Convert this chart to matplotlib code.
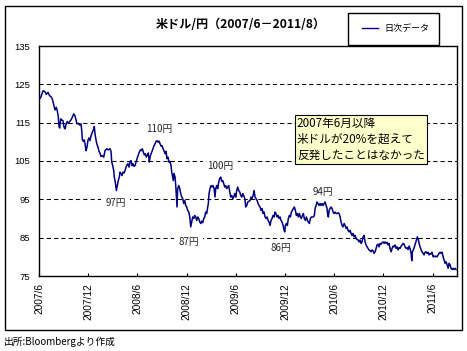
import matplotlib
matplotlib.use("Agg")
import matplotlib.pyplot as plt
from matplotlib.patches import Rectangle
from matplotlib.lines import Line2D

plt.rcParams["font.family"] = ["Liberation Sans", "Noto Sans CJK JP", "DejaVu Sans"]
JP = ["Noto Sans CJK JP", "DejaVu Sans"]

NAVY = "#000080"

# --- data (months elapsed since 2007/6, USD/JPY) ------------------------------
months = [
    0.00, 0.21, 0.49, 0.73, 0.89, 1.10, 1.30, 1.46, 1.62, 1.83, 1.95, 2.11, 2.23, 2.35, 2.44,
    2.52, 2.65, 2.77, 2.93, 3.05, 3.17, 3.33, 3.45, 3.57, 3.74, 3.90, 4.06, 4.23, 4.39, 4.51,
    4.63, 4.79, 4.96, 5.12, 5.21, 5.28, 5.40, 5.52, 5.61, 5.73, 5.85, 5.98, 6.10, 6.22, 6.34,
    6.50, 6.62, 6.74, 6.83, 6.95, 7.07, 7.20, 7.32, 7.44, 7.56, 7.72, 7.89, 8.05, 8.26, 8.45,
    8.66, 8.78, 8.87, 8.99, 9.11, 9.18, 9.30, 9.43, 9.55, 9.67, 9.79, 9.88, 10.00, 10.12, 10.24,
    10.37, 10.49, 10.61, 10.73, 10.85, 10.98, 11.10, 11.22, 11.34, 11.46, 11.59, 11.71, 11.83,
    11.95, 12.11, 12.23, 12.35, 12.48, 12.60, 12.72, 12.84, 12.96, 13.09, 13.21, 13.33, 13.45,
    13.54, 13.66, 13.78, 13.90, 14.02, 14.15, 14.27, 14.39, 14.51, 14.63, 14.76, 14.88, 15.00,
    15.12, 15.24, 15.37, 15.49, 15.61, 15.73, 15.85, 15.98, 16.10, 16.18, 16.30, 16.38, 16.46,
    16.59, 16.67, 16.74, 16.83, 16.91, 17.04, 17.16, 17.28, 17.40, 17.52, 17.65, 17.77, 17.89,
    18.01, 18.13, 18.26, 18.38, 18.50, 18.62, 18.74, 18.87, 18.99, 19.11, 19.23, 19.35, 19.48,
    19.60, 19.72, 19.84, 19.96, 20.09, 20.21, 20.33, 20.45, 20.57, 20.65, 20.73, 20.85, 20.98,
    21.10, 21.22, 21.34, 21.46, 21.55, 21.67, 21.79, 21.91, 22.04, 22.16, 22.28, 22.40, 22.52,
    22.65, 22.77, 22.89, 23.01, 23.13, 23.26, 23.38, 23.50, 23.62, 23.74, 23.87, 23.99, 24.11,
    24.23, 24.35, 24.48, 24.60, 24.72, 24.84, 24.96, 25.09, 25.21, 25.33, 25.45, 25.73, 25.85,
    25.98, 26.10, 26.22, 26.34, 26.46, 26.59, 26.71, 26.83, 26.95, 27.07, 27.20, 27.32, 27.44,
    27.56, 27.68, 27.80, 27.93, 28.05, 28.17, 28.29, 28.41, 28.54, 28.66, 28.78, 28.90, 29.02,
    29.15, 29.27, 29.39, 29.51, 29.63, 29.76, 29.88, 29.96, 30.04, 30.16, 30.28, 30.40, 30.52,
    30.65, 30.77, 30.89, 31.01, 31.13, 31.26, 31.38, 31.50, 31.62, 31.74, 31.87, 31.99, 32.11,
    32.23, 32.35, 32.48, 32.60, 32.72, 32.84, 32.96, 33.09, 33.21, 33.33, 33.45, 33.57, 33.66,
    33.78, 33.90, 34.02, 34.15, 34.27, 34.39, 34.51, 34.63, 34.76, 34.88, 35.00, 35.12, 35.21,
    35.28, 35.37, 35.49, 35.61, 35.73, 35.85, 35.98, 36.10, 36.22, 36.34, 36.46, 36.59, 36.71,
    36.83, 36.95, 37.07, 37.20, 37.32, 37.44, 37.56, 37.68, 37.80, 37.93, 38.05, 38.17, 38.29,
    38.41, 38.54, 38.66, 38.78, 38.90, 39.02, 39.15, 39.27, 39.39, 39.51, 39.63, 39.76, 39.88,
    40.00, 40.12, 40.24, 40.37, 40.49, 40.61, 40.73, 40.85, 40.98, 41.10, 41.22, 41.34, 41.46,
    41.59, 41.71, 41.83, 41.95, 42.07, 42.20, 42.32, 42.44, 42.56, 42.68, 42.80, 42.93, 43.05,
    43.17, 43.29, 43.41, 43.54, 43.66, 43.78, 43.90, 44.02, 44.15, 44.27, 44.39, 44.51, 44.63,
    44.76, 44.88, 45.00, 45.12, 45.24, 45.37, 45.45, 45.52, 45.65, 45.77, 45.89, 46.01, 46.13,
    46.26, 46.34, 46.46, 46.59, 46.71, 46.83, 46.95, 47.07, 47.20, 47.32, 47.44, 47.56, 47.68,
    47.80, 47.93, 48.05, 48.17, 48.29, 48.41, 48.54, 48.66, 48.78, 48.90, 49.02, 49.15, 49.27,
    49.39, 49.51, 49.63, 49.76, 49.88, 50.00, 50.12, 50.24, 50.37, 50.49, 50.61, 50.73, 50.85,
]
usdjpy = [
    121.0, 121.6, 123.3, 123.1, 122.4, 122.9, 122.0, 121.8, 121.2, 119.4, 118.3, 119.0, 118.1, 116.6, 114.0,
    113.6, 116.0, 115.7, 115.5, 113.8, 113.4, 114.8, 115.3, 114.8, 115.3, 115.7, 116.4, 117.3, 116.8, 115.7,
    114.7, 114.8, 114.4, 114.7, 112.9, 110.7, 110.1, 110.5, 109.5, 107.7, 108.6, 110.5, 111.0, 110.3, 111.6,
    112.5, 113.1, 114.0, 112.1, 110.5, 109.3, 108.6, 107.5, 107.0, 106.2, 106.4, 106.0, 107.7, 108.2, 107.9,
    108.2, 107.5, 104.7, 103.8, 102.5, 100.8, 99.5, 97.3, 98.6, 99.9, 100.8, 102.1, 101.7, 101.2, 102.1,
    101.9, 102.5, 103.4, 104.0, 104.3, 103.4, 104.7, 105.1, 103.8, 104.3, 103.6, 103.8, 104.7,
    105.6, 106.6, 107.3, 107.9, 107.7, 108.2, 107.3, 106.6, 106.9, 106.0, 106.6, 107.1, 104.7,
    106.0, 106.9, 107.5, 108.2, 109.0, 109.5, 110.1, 110.3, 109.9, 110.2, 109.5, 108.9, 109.0,
    108.2, 107.7, 106.9, 107.5, 105.6, 106.0, 104.7, 104.9, 103.8, 102.1, 100.8, 99.9, 101.7,
    100.8, 98.6, 96.0, 93.0, 97.8, 98.6, 97.8, 96.5, 95.6, 95.2, 93.9, 94.7, 93.4,
    93.0, 92.1, 91.7, 90.4, 87.8, 89.1, 90.4, 90.0, 90.8, 90.4, 89.5, 90.4, 90.0,
    89.1, 88.7, 89.3, 88.9, 90.0, 90.4, 91.7, 91.3, 93.0, 93.9, 96.5, 97.8, 98.6,
    98.2, 98.6, 97.9, 95.6, 97.8, 98.6, 97.8, 99.5, 100.5, 100.8, 99.7, 99.9, 99.1,
    98.2, 98.6, 97.8, 98.2, 98.6, 96.9, 95.6, 96.0, 95.2, 95.6, 96.5, 95.6, 97.3,
    98.2, 97.3, 96.9, 96.0, 95.6, 96.5, 96.0, 95.2, 93.0, 93.4, 94.3, 94.7, 95.6,
    95.2, 96.0, 97.3, 95.6, 95.2, 94.7, 93.9, 93.4, 93.0, 92.1, 92.6, 91.3, 91.7,
    90.4, 90.0, 90.4, 89.5, 89.1, 88.2, 89.5, 90.0, 90.8, 90.4, 91.7, 91.3, 90.4,
    90.8, 90.0, 90.4, 89.5, 89.1, 88.2, 86.9, 86.5, 88.2, 88.7, 88.2, 90.0, 90.8,
    90.4, 91.7, 92.1, 92.6, 93.0, 92.1, 90.8, 91.3, 90.4, 91.3, 90.4, 90.0, 90.8,
    91.3, 90.0, 89.5, 90.4, 89.5, 89.1, 88.7, 90.0, 90.4, 90.4, 90.4, 90.8, 92.6,
    93.4, 94.3, 93.9, 93.4, 93.9, 93.4, 93.9, 93.4, 93.9, 94.3, 93.4, 92.6, 90.8,
    90.4, 92.1, 92.6, 93.0, 92.6, 91.7, 91.3, 91.7, 91.3, 91.3, 91.5, 91.3, 90.4,
    89.1, 88.2, 87.8, 88.7, 88.2, 87.4, 87.8, 86.9, 86.5, 86.9, 86.1, 85.6, 86.1,
    85.2, 85.6, 84.8, 84.5, 84.4, 83.9, 84.4, 83.5, 83.9, 85.2, 85.6, 83.9, 83.1,
    82.6, 82.2, 81.8, 81.6, 81.3, 81.8, 81.6, 80.9, 81.3, 82.2, 83.1, 83.3, 82.6,
    83.5, 83.3, 83.7, 83.9, 83.5, 83.9, 83.5, 83.8, 83.1, 83.5, 82.2, 81.3, 82.2,
    82.8, 82.6, 83.1, 82.2, 82.6, 81.8, 82.4, 82.2, 82.8, 83.1, 83.5, 83.3, 82.6,
    82.2, 82.4, 81.9, 82.8, 82.2, 80.9, 79.0, 81.3, 81.9, 82.6, 83.5, 84.4, 85.2,
    84.4, 83.5, 82.6, 81.8, 81.3, 80.9, 80.5, 81.2, 81.3, 80.9, 81.2, 80.5, 80.9,
    80.7, 81.2, 80.0, 80.2, 80.0, 80.2, 80.0, 80.5, 80.9, 81.2, 80.9, 81.2, 80.0,
    79.2, 78.3, 78.7, 77.9, 77.0, 78.3, 77.9, 77.0, 76.7, 77.0, 76.7, 77.0, 76.7,
]

tick_months = [0, 6, 12, 18, 24, 30, 36, 42, 48]
tick_labels = ["2007/6", "2007/12", "2008/6", "2008/12", "2009/6",
               "2009/12", "2010/6", "2010/12", "2011/6"]
y_ticks = [75, 85, 95, 105, 115, 125, 135]

# peak / trough call-outs: (month, value, label)
callouts = [
    (14.6, 113.4, "110円"),
    (9.33, 94.0, "97円"),
    (22.1, 103.6, "100円"),
    (18.25, 83.9, "87円"),
    (34.6, 96.9, "94円"),
    (29.45, 82.2, "86円"),
]

W, H = 467, 351
fig = plt.figure(figsize=(W / 100, H / 100), dpi=100)
ax = fig.add_axes([39 / W, 1 - 276 / H, (457.3 - 39) / W, 230 / H])

for y in y_ticks[1:-1]:
    ax.axhline(y, color="black", lw=0.75, ls=(0, (4, 3)), zorder=1)

ax.plot(months, usdjpy, color=NAVY, lw=1.1, zorder=3)

ax.set_xlim(0, 51.0)
ax.set_ylim(75, 135)
ax.set_yticks(y_ticks)
ax.set_xticks(tick_months)
ax.set_xticklabels(tick_labels, rotation=90, fontsize=7.3)
ax.tick_params(axis="y", length=0, pad=6.5, labelsize=6.8)
ax.tick_params(axis="x", direction="in", length=2.5, width=0.8, pad=5)
for s in ax.spines.values():
    s.set_linewidth(1.0)

for mx, vy, lab in callouts:
    ax.text(mx, vy, lab, ha="center", va="center", fontsize=7, family=JP,
            color="#222222", zorder=2,
            bbox=dict(boxstyle="square,pad=0.45", fc="white", ec="none"))

ax.text(31.45, 110.7, "2007年6月以降\n米ドルが20%を超えて\n反発したことはなかった",
        ha="left", va="center", fontsize=8.4, family=JP, linespacing=1.3, zorder=4,
        bbox=dict(boxstyle="square,pad=0.18", fc="#FFFFCC", ec="black", lw=0.8))

# outer chart frame
fig.add_artist(Rectangle((5 / W, 1 - 330 / H), 456.7 / W, 324 / H,
                         transform=fig.transFigure, fill=False, ec="black", lw=1.0))
# legend box
fig.add_artist(Rectangle((348.3 / W, 1 - 45 / H), 91 / W, 32.3 / H,
                         transform=fig.transFigure, fill=False, ec="black", lw=1.0))
fig.add_artist(Line2D([362 / W, 378 / W], [1 - 28.3 / H, 1 - 28.3 / H],
                      transform=fig.transFigure, color=NAVY, lw=1.0))
fig.text(384 / W, 1 - 28.3 / H, "日次データ", ha="left", va="center",
         fontsize=6.5, family=JP)

fig.text(241 / W, 1 - 24 / H, "米ドル/円（2007/6－2011/8）", ha="center", va="center",
         fontsize=8.7, fontweight="bold", family=JP)
fig.text(3.5 / W, 1 - 341.7 / H, "出所:Bloombergより作成", ha="left", va="center",
         fontsize=7, family=JP)

fig.savefig("out.png", dpi=100, facecolor="white")
